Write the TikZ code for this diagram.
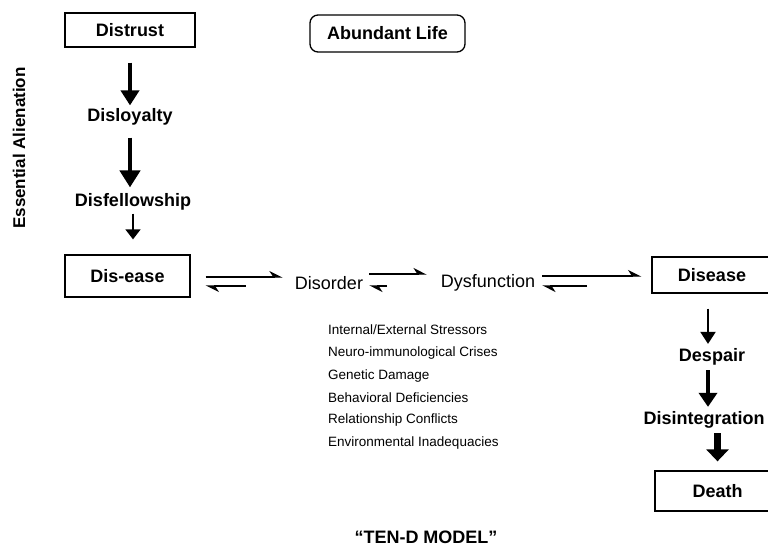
\documentclass[tikz,border=0pt]{standalone}
\usepackage{fontspec}
\setmainfont{Liberation Sans}
\usetikzlibrary{arrows.meta}

\tikzset{
	box/.style={draw, line width=1.3pt, minimum width=125pt, minimum height=38pt, inner sep=2pt, font=\bfseries\fontsize{18}{21}\selectfont},
	lbl/.style={inner sep=2pt, font=\bfseries\fontsize{18}{21}\selectfont},
	plainlbl/.style={inner sep=2pt, font=\fontsize{18}{21}\selectfont},
	stress/.style={anchor=west, inner sep=0pt, font=\fontsize{13.5}{15}\selectfont},
	fwd/.style={line width=1.3pt, -{Stealth[harpoon,length=12pt,width=12pt]}},
}

\begin{document}
\begin{tikzpicture}[x=10pt, y=-10pt]
			%%%%% START %%%%%
			\useasboundingbox (0, 0) rectangle (76.8, 54.8);
			
			\node[lbl, rotate=90, font=\bfseries\fontsize{17}{20}\selectfont] (alien) at (1.9, 14.8) {Essential Alienation};
			
			\node[box, minimum width=130pt, minimum height=34pt] (distrust) at (13.0, 3.0) {Distrust};
			\node[box, rounded corners=8pt, minimum width=155pt, minimum height=37pt] (abundant) at (38.75, 3.35) {Abundant Life};
			
			\node[lbl] (disloyalty) at (13.0, 11.7) {Disloyalty};
			\node[lbl] (disfellow) at (13.3, 20.2) {Disfellowship};
			\node[box, minimum height=42pt] (disease1) at (12.75, 27.6) {Dis-ease};
			
			\draw[line width=4pt, -{Triangle[width=18pt, length=15pt]}, shorten <=15pt, shorten >=1pt] (distrust.south) -- (distrust.south |- disloyalty.north);
			\draw[line width=4.5pt, -{Triangle[width=20pt, length=17pt]}, shorten <=10pt, shorten >=4pt] (disloyalty.south -| distrust.south) -- (disfellow.north -| distrust.south);
			\draw[line width=1.6pt, -{Triangle[width=15pt, length=10pt]}, shorten <=1pt, shorten >=15pt] (disfellow.south) -- (disfellow.south |- disease1.north);
			
			\node[plainlbl] (disorder) at (32.9, 28.3) {Disorder};
			\node[plainlbl] (dysfunc) at (48.8, 28.3) {Dysfunction};
			\node[box, minimum width=120pt, minimum height=36pt] (disease) at (71.2, 27.5) {Disease};
			
			% reversible steps
			\draw[fwd] ([xshift=15pt, yshift=-1pt]disease1.east) -- ([xshift=92pt, yshift=-1pt]disease1.east);
			\draw[fwd] ([xshift=55pt, yshift=-10pt]disease1.east) -- ([xshift=15pt, yshift=-10pt]disease1.east);
			\draw[fwd] ([xshift=4pt, yshift=9pt]disorder.east) -- ([xshift=-12pt, yshift=9pt]disorder.east -| dysfunc.west);
			\draw[fwd] ([xshift=22pt, yshift=-3pt]disorder.east) -- ([xshift=4pt, yshift=-3pt]disorder.east);
			\draw[fwd] ([xshift=5pt, yshift=7pt]dysfunc.east) -- ([xshift=-10pt, yshift=7pt]dysfunc.east -| disease.west);
			\draw[fwd] ([xshift=50pt, yshift=-3pt]dysfunc.east) -- ([xshift=5pt, yshift=-3pt]dysfunc.east);
			
			\node[lbl] (despair) at (71.2, 35.7) {Despair};
			\node[lbl] (disint) at (70.4, 42.0) {Disintegration};
			\node[box, minimum height=40pt] (death) at (71.75, 49.1) {Death};
			
			\draw[line width=2pt, -{Triangle[width=15pt, length=12pt]}, shorten <=15pt, shorten >=2.5pt] ([xshift=-4pt]disease.south) -- ([xshift=-4pt]disease.south |- despair.north);
			\draw[line width=4pt, -{Triangle[width=18pt, length=14pt]}, shorten <=2.5pt, shorten >=2.5pt] ([xshift=-4pt]disease.south |- despair.south) -- ([xshift=-4pt]disease.south |- disint.north);
			\draw[line width=7pt, -{Triangle[width=22pt, length=12pt]}, shorten <=2.5pt, shorten >=9pt] (disint.south -| death.north) -- (death.north);
			
			\node[stress] (s1) at (32.8, 33.0) {Internal/External Stressors};
			\node[stress] (s2) at (32.8, 35.3) {Neuro-immunological Crises};
			\node[stress] (s3) at (32.8, 37.6) {Genetic Damage};
			\node[stress] (s4) at (32.8, 39.8) {Behavioral Deficiencies};
			\node[stress] (s5) at (32.8, 42.0) {Relationship Conflicts};
			\node[stress] (s6) at (32.8, 44.3) {Environmental Inadequacies};
			
			\node[lbl] (title) at (42.6, 53.7) {“TEN-D MODEL”};
			
			%%%%% END %%%%%
		\end{tikzpicture}
\end{document}
